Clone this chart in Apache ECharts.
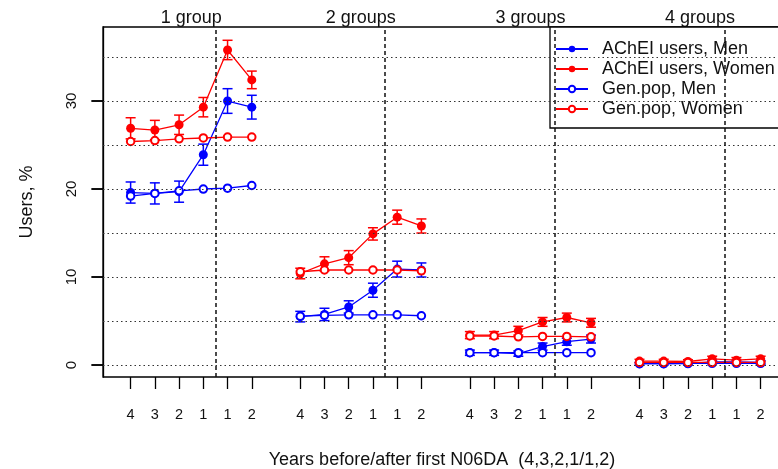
<!DOCTYPE html>
<html lang="en">
<head>
<meta charset="UTF-8">
<title>Users by group</title>
<style>
    html, body { margin: 0; padding: 0; background: #fff; }
    #main { width: 778px; height: 469px; }
</style>
</head>
<body>
<div id="main"></div>
<script src="https://cdn.jsdelivr.net/npm/echarts@6/dist/echarts.min.js"></script>
<script>
    // categories
    var groups = ['1 group', '2 groups', '3 groups', '4 groups'];
    var yearLabels = ['4', '3', '2', '1', '1', '2'];
    var yTickLabels = [0, 10, 20, 30];
    var gridLevels = [0, 5, 10, 15, 20, 25, 30, 35];

    // values, % (4 groups x 6 years)
    var acheiMen = [
        19.6, 19.5, 19.7, 23.9, 30.0, 29.3,
        5.5, 5.75, 6.6, 8.5, 10.9, 10.8,
        1.4, 1.4, 1.3, 2.1, 2.65, 2.95,
        0.15, 0.15, 0.15, 0.35, 0.35, 0.3
    ];
    var acheiMenErr = [
        1.2, 1.2, 1.2, 1.2, 1.4, 1.35,
        0.6, 0.7, 0.7, 0.8, 0.9, 0.8,
        0.3, 0.3, 0.3, 0.4, 0.4, 0.45,
        0.15, 0.15, 0.15, 0.2, 0.2, 0.2
    ];
    var acheiWomen = [
        26.9, 26.7, 27.3, 29.3, 35.8, 32.4,
        10.4, 11.5, 12.2, 14.9, 16.8, 15.8,
        3.4, 3.4, 3.9, 4.9, 5.4, 4.8,
        0.45, 0.45, 0.4, 0.7, 0.55, 0.7
    ];
    var acheiWomenErr = [
        1.2, 1.1, 1.1, 1.1, 1.1, 1.0,
        0.6, 0.8, 0.8, 0.7, 0.8, 0.8,
        0.4, 0.4, 0.5, 0.5, 0.5, 0.5,
        0.2, 0.2, 0.2, 0.3, 0.3, 0.3
    ];
    var genMen = [
        19.2, 19.5, 19.8, 20.0, 20.1, 20.4,
        5.55, 5.65, 5.7, 5.7, 5.7, 5.6,
        1.4, 1.4, 1.4, 1.4, 1.4, 1.4,
        0.15, 0.15, 0.2, 0.2, 0.2, 0.2
    ];
    var genWomen = [
        25.4, 25.5, 25.7, 25.8, 25.9, 25.9,
        10.6, 10.8, 10.8, 10.8, 10.8, 10.7,
        3.3, 3.3, 3.2, 3.25, 3.25, 3.2,
        0.3, 0.3, 0.3, 0.3, 0.3, 0.3
    ];

    var BLUE = '#0000ff';
    var RED = '#ff0000';
    var FONT = 'Liberation Sans, Arial, sans-serif';

    // x position: 6 years per group, 1 empty slot between groups,
    // shifted so the left plot edge is x = 0 (y axis sits on it)
    var X0 = 1.14;
    function xOf(k) { return X0 + Math.floor(k / 6) * 7 + (k % 6); }

    var tickPos = [];
    for (var k = 0; k < 24; k++) tickPos.push(xOf(k));
    var groupCenters = groups.map(function (g, i) { return X0 + i * 7 + 2.5; });
    var splitPos = groups.map(function (g, i) { return X0 + i * 7 + 3.5; });

    function lineSeries(name, values, color, filled) {
        var out = [];
        for (var g = 0; g < groups.length; g++) {
            var pts = [];
            for (var i = 0; i < 6; i++) {
                var k = g * 6 + i;
                pts.push([xOf(k), values[k]]);
            }
            out.push({
                name: name,
                type: 'line',
                data: pts,
                symbol: filled ? 'circle' : 'emptyCircle',
                symbolSize: filled ? 9 : 7.5,
                color: color,
                lineStyle: { color: color, width: 1.3 },
                itemStyle: { color: color, borderColor: color, borderWidth: filled ? 0 : 1.3 },
                showSymbol: true
            });
        }
        return out;
    }

    function errSeries(values, errs, color) {
        var pts = values.map(function (v, k) { return [xOf(k), v - errs[k], v + errs[k]]; });
        return {
            type: 'custom',
            data: pts,
            encode: { x: 0, y: [1, 2] },
            renderItem: function (params, api) {
                var x = api.value(0);
                var lo = api.coord([x, api.value(1)]);
                var hi = api.coord([x, api.value(2)]);
                var w = 5;
                var st = { stroke: color, lineWidth: 1.5 };
                return {
                    type: 'group',
                    children: [
                        { type: 'line', shape: { x1: lo[0], y1: lo[1], x2: hi[0], y2: hi[1] }, style: st },
                        { type: 'line', shape: { x1: lo[0] - w, y1: lo[1], x2: lo[0] + w, y2: lo[1] }, style: st },
                        { type: 'line', shape: { x1: hi[0] - w, y1: hi[1], x2: hi[0] + w, y2: hi[1] }, style: st }
                    ]
                };
            }
        };
    }

    var refLines = [];
    gridLevels.forEach(function (v) {
        refLines.push({ yAxis: v, lineStyle: { type: [1.5, 3], color: '#333', width: 1.2 } });
    });
    splitPos.forEach(function (v) {
        refLines.push({ xAxis: v, lineStyle: { type: [4, 3], color: '#111', width: 1.5 } });
    });

    var series = [{
        type: 'line',
        data: [],
        markLine: {
            silent: true,
            symbol: ['none', 'none'],
            label: { show: false },
            data: refLines
        }
    }];
    series.push(errSeries(acheiMen, acheiMenErr, BLUE));
    series = series.concat(lineSeries('AChEI users, Men', acheiMen, BLUE, true));
    series.push(errSeries(acheiWomen, acheiWomenErr, RED));
    series = series.concat(lineSeries('AChEI users, Women', acheiWomen, RED, true));
    series = series.concat(lineSeries('Gen.pop, Men', genMen, BLUE, false));
    series = series.concat(lineSeries('Gen.pop, Women', genWomen, RED, false));

    var chart = echarts.init(document.getElementById('main'));
    var option = {
        animation: false,
        backgroundColor: '#fff',
        textStyle: { fontFamily: FONT },
        grid: {
            left: 103, top: 27, right: -3, bottom: 92,
            outerBoundsMode: 'none',
            show: true, borderColor: '#000', borderWidth: 1.3
        },
        legend: {
            data: ['AChEI users, Men', 'AChEI users, Women', 'Gen.pop, Men', 'Gen.pop, Women'],
            orient: 'vertical',
            left: 550, top: 27,
            padding: [12, 20, 9, 5],
            itemGap: 0,
            itemWidth: 32,
            itemHeight: 8,
            borderColor: '#000',
            borderWidth: 1.3,
            borderRadius: 0,
            backgroundColor: '#fff',
            selectedMode: false,
            textStyle: { fontFamily: FONT, fontSize: 18, lineHeight: 20, color: '#111', padding: [0, 0, 0, 9] }
        },
        xAxis: [{
            type: 'value',
            min: 0, max: 27.98,
            position: 'bottom',
            axisLine: { show: false, onZero: false },
            splitLine: { show: false },
            axisTick: { show: true, customValues: tickPos, length: 12, lineStyle: { color: '#000', width: 1.3 } },
            axisLabel: {
                customValues: tickPos,
                margin: 30,
                fontSize: 14.5,
                color: '#111',
                formatter: function (v) { return yearLabels[tickPos.indexOf(v) % 6]; }
            },
            name: 'Years before/after first N06DA  (4,3,2,1/1,2)',
            nameLocation: 'middle',
            nameGap: 74,
            nameTextStyle: { fontFamily: FONT, fontSize: 18, color: '#111' }
        }, {
            type: 'value',
            min: 0, max: 27.98,
            position: 'top',
            axisLine: { show: false, onZero: false },
            splitLine: { show: false },
            axisTick: { show: false },
            axisLabel: {
                customValues: groupCenters,
                margin: 0,
                fontSize: 18,
                color: '#111',
                formatter: function (v) { return groups[groupCenters.indexOf(v)]; }
            }
        }],
        yAxis: {
            type: 'value',
            min: -1.36, max: 38.41,
            position: 'left',
            axisLine: { show: true, onZero: false, lineStyle: { color: '#000', width: 1.3 } },
            splitLine: { show: false },
            axisTick: { show: true, customValues: yTickLabels, length: 11.5, lineStyle: { color: '#000', width: 1.5 } },
            axisLabel: {
                customValues: yTickLabels,
                rotate: 90,
                margin: 24,
                fontSize: 15,
                color: '#111'
            },
            name: 'Users, %',
            nameLocation: 'middle',
            nameRotate: 90,
            nameGap: 67,
            nameTextStyle: { fontFamily: FONT, fontSize: 18, color: '#111' }
        },
        series: series
    };
    chart.setOption(option);

    // y tick marks, placed through the axis scale
    var axisX = chart.convertToPixel({ xAxisIndex: 0 }, 0);
    var yTicks = yTickLabels.map(function (v) {
        var py = chart.convertToPixel({ yAxisIndex: 0 }, v);
        return {
            type: 'line',
            silent: true,
            shape: { x1: axisX - 11.5, y1: py, x2: axisX, y2: py },
            style: { stroke: '#000', lineWidth: 1.5 }
        };
    });
    chart.setOption({ graphic: yTicks });
</script>
</body>
</html>
